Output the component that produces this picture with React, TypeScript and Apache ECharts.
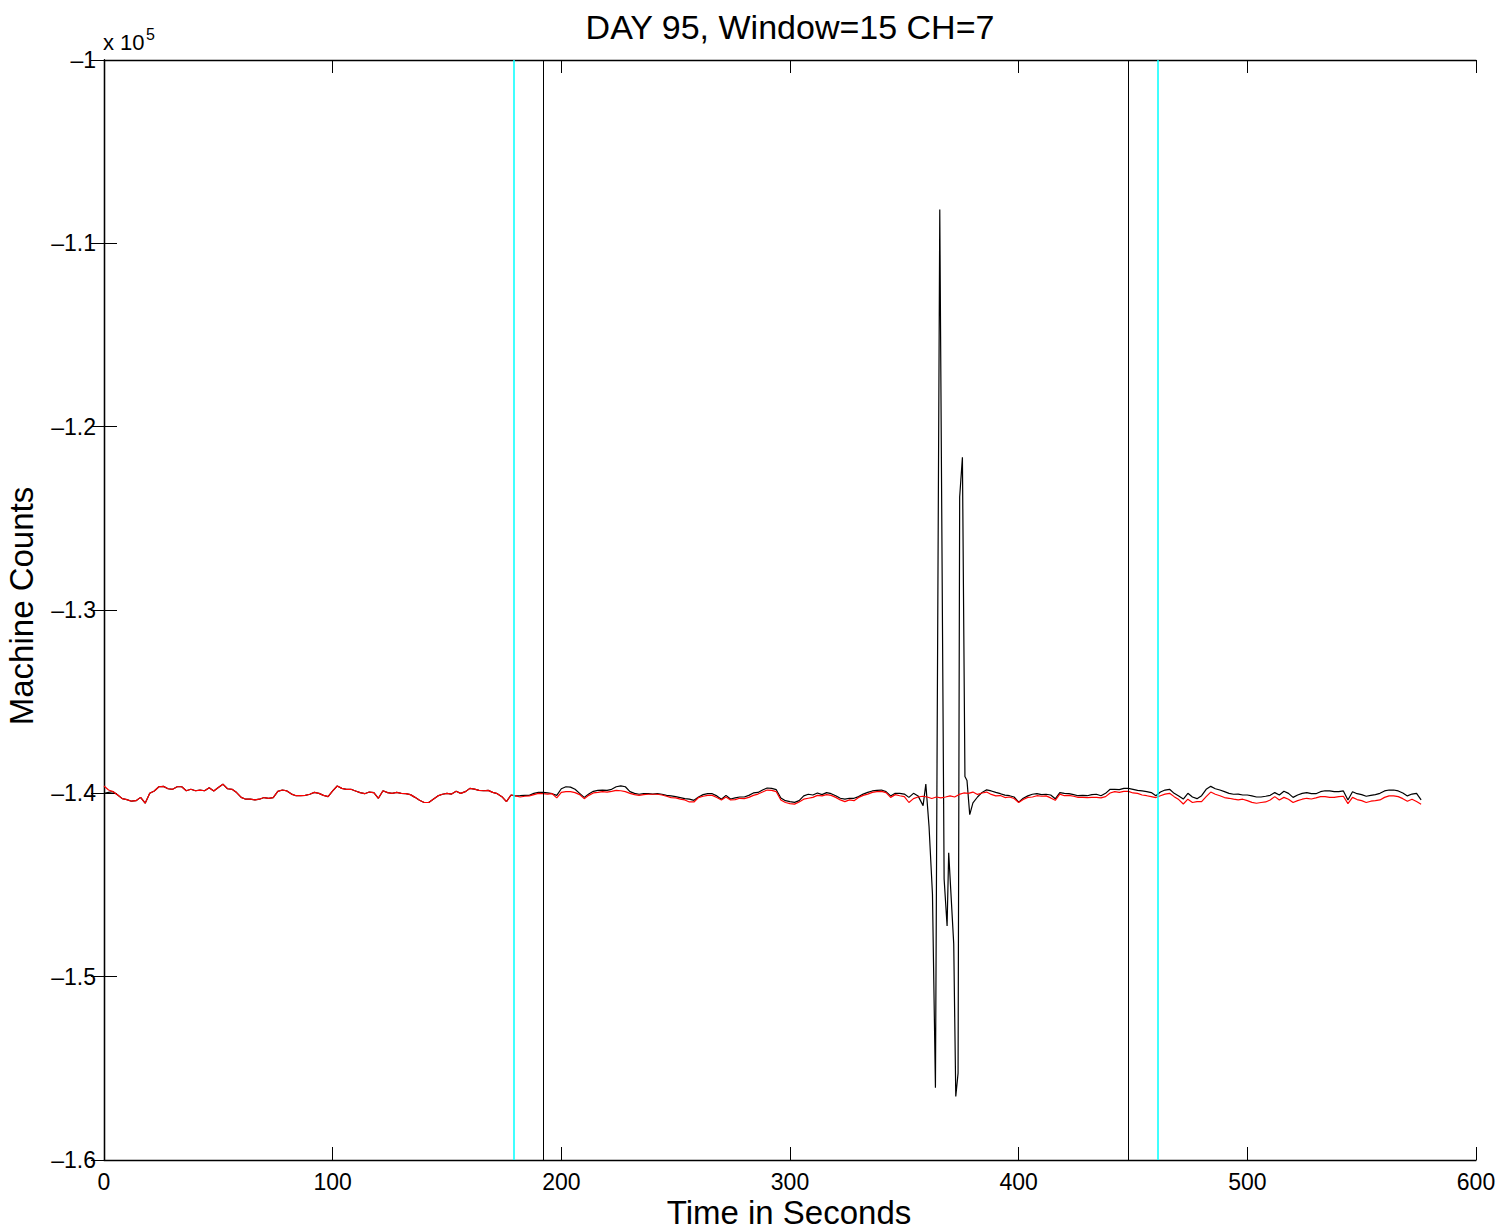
import { useEffect, useRef } from 'react';
import * as echarts from 'echarts';

// readings are offsets (counts) from the -1.4e5 baseline, sampled every 2 s
const BASELINE = -140000;
const STEP = 2;

// red trace, t = 0 .. 576 s
const redOffsets = [
    400, 180, 90, -90, -290, -340, -430, -400, -220, -540,
    0, 130, 360, 380, 250, 220, 360, 360, 140, 220,
    140, 180, 140, 310, 130, 320, 500, 250, 220, 40,
    -220, -320, -320, -360, -320, -230, -270, -230, 110, 180,
    130, -40, -130, -130, -110, -50, 50, 0, -110, -180,
    130, 400, 270, 220, 220, 130, 40, -20, 70, 40,
    -270, 140, 40, 0, 50, 0, -20, -70, -220, -380,
    -500, -500, -320, -140, -50, 0, -40, 110, 0, 90,
    270, 230, 160, 140, 160, 50, -20, -180, -450, -90,
    -140, -200, -160, -140, -70, 0, -20, -40, -20, -250,
    50, 90, 90, 40, -70, -290, -110, 20, 50, 90,
    70, 110, 160, 140, 90, 0, -70, -110, -70, -50,
    -50, -50, -90, -160, -230, -250, -320, -360, -470, -470,
    -230, -160, -110, -110, -230, -360, -200, -360, -340, -270,
    -290, -220, -110, -40, 70, 180, 160, 90, -360, -500,
    -560, -590, -470, -320, -270, -220, -110, -140, -70, -110,
    -220, -360, -450, -360, -400, -230, -110, -40, 50, 90,
    110, 40, -220, -70, -130, -180, -500, -290, -200, -160,
    -200, -280, -200, -250, -200, -140, -200, -60, 20, 0,
    70, -60, 20, 70, -60, -140, -120, -230, -200, -280,
    -500, -340, -220, -200, -130, -160, -140, -250, -380, -40,
    -130, -110, -160, -220, -220, -230, -220, -220, -250, -180,
    20, 90, 50, 110, 110, 20, 0, -90, -130, -180,
    -230, -130, -40, 0, -180, -340, -580, -320, -500, -450,
    -450, -180, 70, -50, -130, -230, -270, -320, -360, -320,
    -400, -490, -540, -500, -470, -360, -180, -360, -220, -320,
    -500, -400, -320, -270, -310, -250, -180, -180, -220, -220,
    -180, -160, -560, -220, -340, -400, -500, -430, -400, -360,
    -220, -140, -140, -180, -290, -430, -320, -450, -590
];

// black trace, t = 0 .. 356 s
const blackHeadOffsets = [
    0, 50, 90, -90, -290, -340, -430, -400, -220, -540,
    0, 130, 360, 380, 250, 220, 360, 360, 140, 220,
    140, 180, 140, 310, 130, 320, 500, 250, 220, 40,
    -220, -320, -320, -360, -320, -230, -270, -230, 110, 180,
    130, -40, -130, -130, -110, -50, 50, 0, -110, -180,
    130, 400, 270, 220, 220, 130, 40, -20, 70, 40,
    -270, 140, 40, 0, 50, 0, -20, -70, -220, -380,
    -500, -500, -320, -140, -50, 0, -40, 110, 0, 90,
    270, 230, 160, 140, 160, 50, -20, -180, -450, -90,
    -140, -130, -110, -110, 0, 50, 50, 20, -20, -110,
    250, 360, 340, 220, 0, -220, -40, 110, 160, 180,
    160, 220, 360, 410, 360, 90, 0, -50, -20, -20,
    -40, -20, -50, -110, -140, -180, -230, -290, -320, -380,
    -200, -70, -20, -20, -140, -320, -110, -310, -250, -200,
    -200, -110, 20, 50, 180, 290, 270, 200, -250, -400,
    -450, -490, -400, -140, -50, -90, 20, -70, 40, -20,
    -130, -270, -320, -270, -270, -180, -40, 50, 130, 160,
    180, 90, -140, 0, 0, -40, -220, 0, -140
];

// black trace through the disturbance (seconds, counts)
const spikeTimes = [358.2, 359.4, 360.8, 362.3, 363.6, 365.5, 367.4, 368.7, 369.4, 371.6, 372.5, 373.5, 374.2, 375.4, 376.5, 377.4, 378.6];
const spikeValues = [-140670, -139500, -141800, -145490, -156060, -108150, -144670, -147240, -143240, -148210, -156540, -155260, -123840, -121670, -139080, -139300, -141160];

// black trace, t = 380 .. 576 s
const TAIL_START = 380;
const blackTailOffsets = [
    -520, -200, 50, 190, 130, 50, -20, -100, -130, -200,
    -480, -270, -140, -50, -20, -70, -50, -90, -300, 40,
    0, -20, -70, -130, -110, -130, -70, -50, -130, 0,
    220, 220, 200, 270, 270, 220, 160, 130, 90, 40,
    -130, 70, 180, 220, 0, -140, -310, 0, -200, -290,
    -130, 220, 380, 250, 180, 90, 0, -50, -40, -90,
    -90, -140, -200, -200, -160, -110, 40, -90, 110, 0,
    -220, -90, 0, 40, -20, -20, 90, 140, 130, 90,
    90, 130, -360, 90, -20, -70, -160, -110, -70, 0,
    130, 180, 180, 130, 20, -140, -40, 0, -360
];

const cyanMarks = [179, 461];
const windowMarks = [192, 448];

const X_MIN = 0, X_MAX = 600, X_STEP = 100;
const Y_MIN = -160000, Y_MAX = -100000, Y_STEP = 10000;

const FONT = '"Liberation Sans", Arial, Helvetica, sans-serif';

const App = () => {
    const chartRef = useRef<HTMLDivElement>(null);

    useEffect(() => {
        const chart = echarts.init(chartRef.current, null, { renderer: 'svg' });

        const red = redOffsets.map((d, i) => [i * STEP, BASELINE + d]);
        const black = [
            ...blackHeadOffsets.map((d, i) => [i * STEP, BASELINE + d]),
            ...spikeTimes.map((t, i) => [t, spikeValues[i]]),
            ...blackTailOffsets.map((d, i) => [TAIL_START + i * STEP, BASELINE + d])
        ];

        const axisLine = { show: true, lineStyle: { color: '#000', width: 1.3 } };
        const axisTick = { show: true, inside: true, length: 13, lineStyle: { color: '#000', width: 1 } };
        const label = { color: '#000', fontSize: 23, fontFamily: FONT };

        const yLabel = (v: number) => '\u2013' + parseFloat((Math.abs(v) / 1e5).toFixed(1));

        chart.setOption({
            animation: false,
            backgroundColor: '#fff',
            grid: { left: 104, top: 60, right: 26, bottom: 72, containLabel: false },
            xAxis: [
                {
                    type: 'value', position: 'bottom', min: X_MIN, max: X_MAX, interval: X_STEP,
                    axisLine, axisTick, splitLine: { show: false },
                    axisLabel: { ...label, margin: 10 }
                },
                {
                    type: 'value', position: 'top', min: X_MIN, max: X_MAX, interval: X_STEP,
                    axisLine, axisTick, splitLine: { show: false }, axisLabel: { show: false }
                }
            ],
            yAxis: [
                {
                    type: 'value', position: 'left', min: Y_MIN, max: Y_MAX, interval: Y_STEP,
                    axisLine, axisTick, splitLine: { show: false },
                    axisLabel: { ...label, margin: 8, padding: [6, 0, 0, 0], formatter: yLabel }
                },
                {
                    type: 'value', position: 'right', min: Y_MIN, max: Y_MAX, interval: Y_STEP,
                    axisLine, axisTick, splitLine: { show: false }, axisLabel: { show: false }
                }
            ],
            series: [
                {
                    type: 'line', name: 'window', data: [], silent: true,
                    markLine: {
                        silent: true, symbol: 'none', label: { show: false }, animation: false,
                        data: [
                            ...windowMarks.map((t) => ({ xAxis: t, lineStyle: { color: '#000', width: 1, type: 'solid' } })),
                            ...cyanMarks.map((t) => ({ xAxis: t, lineStyle: { color: '#00ffff', width: 1.5, type: 'solid' } }))
                        ]
                    }
                },
                {
                    type: 'line', name: 'CH=7', data: black, showSymbol: false, symbol: 'none',
                    lineStyle: { color: '#000', width: 1.2 }, silent: true
                },
                {
                    type: 'line', name: 'reference', data: red, showSymbol: false, symbol: 'none',
                    lineStyle: { color: '#ff0000', width: 1.2 }, silent: true
                }
            ],
            graphic: [
                {
                    type: 'text', x: 790, y: 27,
                    style: { text: 'DAY 95, Window=15 CH=7', font: `34px ${FONT}`, fill: '#000', textAlign: 'center', textVerticalAlign: 'middle' }
                },
                {
                    type: 'text', x: 789, y: 1212,
                    style: { text: 'Time in Seconds', font: `33px ${FONT}`, fill: '#000', textAlign: 'center', textVerticalAlign: 'middle' }
                },
                {
                    type: 'text', x: 21, y: 606, rotation: Math.PI / 2,
                    style: { text: 'Machine Counts', font: `33px ${FONT}`, fill: '#000', textAlign: 'center', textVerticalAlign: 'middle' }
                },
                {
                    type: 'text', x: 103, y: 42,
                    style: { text: 'x 10', font: `22px ${FONT}`, fill: '#000', textAlign: 'left', textVerticalAlign: 'middle' }
                },
                {
                    type: 'text', x: 146, y: 34,
                    style: { text: '5', font: `16px ${FONT}`, fill: '#000', textAlign: 'left', textVerticalAlign: 'middle' }
                }
            ]
        });

        return () => {
            chart.dispose();
        };
    }, []);

    return (
        <div
            ref={chartRef}
            style={{ position: 'absolute', left: 0, top: 0, width: 1502, height: 1232, background: '#fff' }}
        />
    );
};

export default App;
